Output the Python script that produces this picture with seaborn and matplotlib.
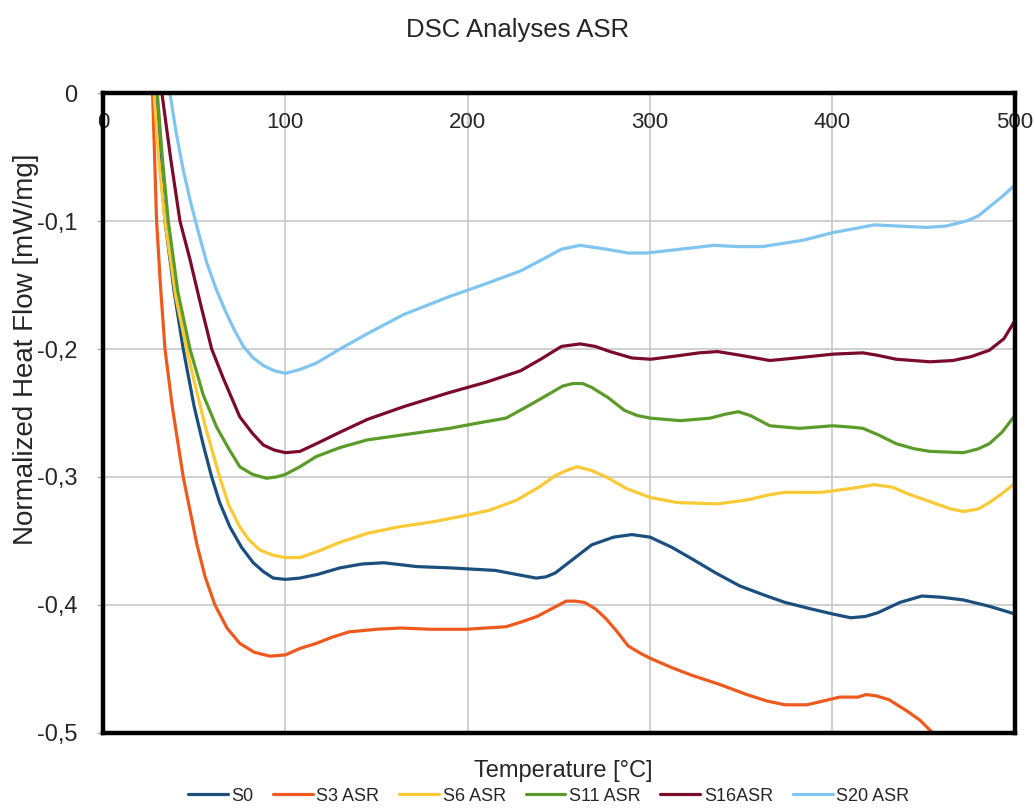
import pandas as pd
import matplotlib
matplotlib.use('Agg')
import matplotlib.pyplot as plt
import seaborn as sns
from matplotlib.ticker import FuncFormatter

# Values (temperature in °C, heat flow in mW/mg)
s0_x = [28.5, 31, 34, 39, 44, 50, 55, 59.6, 64, 69.6, 76, 82.4, 88, 93.4, 100, 108, 118, 130, 142, 154,
        172, 190, 215, 230, 237.6, 243, 248, 258, 268, 280, 290, 300, 312, 323, 336, 349, 362, 374,
        388, 400, 410, 418, 425, 437, 449, 460, 471.5, 486, 500]
s0_y = [0, -0.05, -0.1, -0.155, -0.2, -0.245, -0.275, -0.300, -0.32, -0.339, -0.355, -0.367, -0.374,
        -0.379, -0.380, -0.379, -0.376, -0.371, -0.368, -0.367, -0.370, -0.371, -0.373, -0.377, -0.379,
        -0.378, -0.375, -0.364, -0.353, -0.347, -0.345, -0.347, -0.355, -0.364, -0.375, -0.385, -0.392,
        -0.398, -0.403, -0.407, -0.410, -0.409, -0.406, -0.398, -0.393, -0.394, -0.396, -0.401, -0.407]

s3_x = [27.2, 28.3, 29.4, 31.5, 34, 38, 44, 51.4, 56, 61.4, 68, 75, 83, 91.6, 100, 108, 117, 126, 135,
        150, 163, 180, 199, 221, 230, 238, 246, 254, 259, 264, 270, 276, 282, 288, 295, 300.6, 312, 323,
        338, 353, 364, 374, 386, 395, 404, 414, 418.5, 424, 431, 441, 448, 455, 460]
s3_y = [0, -0.05, -0.1, -0.15, -0.2, -0.245, -0.300, -0.352, -0.378, -0.4, -0.418, -0.430, -0.437,
        -0.440, -0.439, -0.434, -0.430, -0.425, -0.421, -0.419, -0.418, -0.419, -0.419, -0.417, -0.413,
        -0.409, -0.403, -0.397, -0.397, -0.398, -0.403, -0.411, -0.421, -0.432, -0.438, -0.442, -0.449,
        -0.455, -0.462, -0.470, -0.475, -0.478, -0.478, -0.475, -0.472, -0.472, -0.470, -0.471, -0.474,
        -0.483, -0.49, -0.500, -0.508]

s6_x = [28, 30.5, 34, 40, 45.9, 50, 56, 64, 69, 75, 80, 86, 93, 100, 108, 118, 130, 145, 162, 181, 199,
        212, 227, 239, 248, 254, 260, 268, 276, 287, 300, 315, 337, 353, 365, 374, 394, 410, 423, 433,
        441, 455, 465, 472, 480, 486, 493, 500]
s6_y = [0, -0.05, -0.1, -0.16, -0.2, -0.225, -0.26, -0.300, -0.322, -0.339, -0.349, -0.357, -0.361,
        -0.363, -0.363, -0.358, -0.351, -0.344, -0.339, -0.335, -0.330, -0.326, -0.318, -0.308, -0.299,
        -0.295, -0.292, -0.295, -0.300, -0.309, -0.316, -0.320, -0.321, -0.318, -0.314, -0.312, -0.312,
        -0.309, -0.306, -0.308, -0.313, -0.320, -0.325, -0.327, -0.325, -0.320, -0.313, -0.305]

s11_x = [29.8, 32.5, 35.8, 41, 47.7, 55, 62.3, 69, 75, 82, 89.7, 95, 100, 108, 117, 130, 145, 165, 190,
         205, 221, 235, 246, 252, 257.6, 263, 268, 277, 286, 293, 300, 316.7, 333, 341, 348.4, 355,
         365.7, 382, 400, 410, 416.7, 425, 435, 445, 453.5, 471.8, 480, 486, 493, 500]
s11_y = [0, -0.05, -0.1, -0.155, -0.2, -0.236, -0.261, -0.278, -0.292, -0.298, -0.301, -0.300, -0.298,
         -0.292, -0.284, -0.277, -0.271, -0.267, -0.262, -0.258, -0.254, -0.243, -0.234, -0.229, -0.227,
         -0.227, -0.230, -0.238, -0.248, -0.252, -0.254, -0.256, -0.254, -0.251, -0.249, -0.252, -0.260,
         -0.262, -0.260, -0.261, -0.262, -0.267, -0.274, -0.278, -0.280, -0.281, -0.278, -0.274, -0.265,
         -0.252]

s16_x = [32.3, 37, 42.2, 47.7, 53, 59.6, 66, 75, 82, 87.9, 94, 100, 108, 117, 130, 145, 165, 190, 210,
         229, 240, 251.4, 261.6, 270, 278, 290, 300.4, 316.7, 327, 337, 350, 365.7, 380, 400.4, 416.7,
         425, 435, 453.5, 466, 476, 486, 494, 500]
s16_y = [0, -0.05, -0.1, -0.13, -0.162, -0.2, -0.223, -0.253, -0.266, -0.275, -0.279, -0.281, -0.280,
         -0.274, -0.265, -0.255, -0.245, -0.234, -0.226, -0.217, -0.208, -0.198, -0.196, -0.198, -0.202,
         -0.207, -0.208, -0.205, -0.203, -0.202, -0.205, -0.209, -0.207, -0.204, -0.203, -0.205, -0.208,
         -0.210, -0.209, -0.206, -0.201, -0.192, -0.178]

s20_x = [36.7, 40, 44, 48, 52, 57, 62, 67, 72, 77, 82.4, 88, 94, 100, 108, 117, 130, 145, 165, 190, 210,
         229, 241, 251.4, 261.6, 276, 288, 298, 316.7, 335, 348, 361.6, 384, 400.4, 412, 422.9, 437,
         451.4, 462, 473.5, 480, 486, 493, 500]
s20_y = [0, -0.03, -0.06, -0.085, -0.107, -0.133, -0.153, -0.17, -0.185, -0.198, -0.207, -0.213,
         -0.217, -0.219, -0.216, -0.211, -0.200, -0.188, -0.173, -0.159, -0.149, -0.139, -0.130, -0.122,
         -0.119, -0.122, -0.125, -0.125, -0.122, -0.119, -0.120, -0.120, -0.115, -0.109, -0.106, -0.103,
         -0.104, -0.105, -0.104, -0.100, -0.096, -0.089, -0.081, -0.072]

samples = ['S0', 'S3 ASR', 'S6 ASR', 'S11 ASR', 'S16ASR', 'S20 ASR']
colors = ['#1B4F7E', '#EE5A1E', '#FAC936', '#5A9B29', '#7A0B2B', '#80C4F0']
x_ticks = [0, 100, 200, 300, 400, 500]
y_ticks = [0, -0.1, -0.2, -0.3, -0.4, -0.5]

series = [(s0_x, s0_y), (s3_x, s3_y), (s6_x, s6_y), (s11_x, s11_y), (s16_x, s16_y), (s20_x, s20_y)]
frames = []
for name, (xs, ys) in zip(samples, series):
    frames.append(pd.DataFrame({'Temperature': xs, 'Heat Flow': ys, 'Sample': name}))
df = pd.concat(frames, ignore_index=True)

sns.set_style('white')
plt.rcParams['font.family'] = ['Liberation Sans', 'DejaVu Sans']

fig = plt.figure(figsize=(10.35, 8.09), dpi=100)
ax = fig.add_axes([0.0995, 0.094, 0.881, 0.791])

sns.lineplot(data=df, x='Temperature', y='Heat Flow', hue='Sample', hue_order=samples,
             palette=dict(zip(samples, colors)), estimator=None, sort=False,
             linewidth=2.3, ax=ax)

ax.set_xlim(0, 500)
ax.set_ylim(-0.5, 0)
ax.set_xticks(x_ticks)
ax.set_yticks(y_ticks)
ax.yaxis.set_major_formatter(FuncFormatter(lambda v, p: f'{v:g}'.replace('.', ',')))
ax.grid(True, color='#c4c4c4', linewidth=1.1)
ax.set_axisbelow(True)

# x labels sit just under the zero line, inside the plot
ax.tick_params(axis='x', top=True, bottom=False, labeltop=True, labelbottom=False,
               length=0, pad=-29, labelsize=16)
ax.tick_params(axis='y', left=True, length=4, color='#b0b0b0', width=1, pad=14.5, labelsize=17)
for side in ax.spines.values():
    side.set_color('black')
    side.set_linewidth(3.2)

ax.set_xlabel('Temperature [°C]', fontsize=17)
ax.xaxis.set_label_position('bottom')
ax.xaxis.set_label_coords(0.505, -0.043)
ax.set_ylabel('Normalized Heat Flow [mW/mg]', fontsize=20)
ax.yaxis.set_label_coords(-0.07, 0.6)

fig.suptitle('DSC Analyses ASR', fontsize=18.5, y=0.978)

handles, labels = ax.get_legend_handles_labels()
ax.legend(handles, labels, loc='center', bbox_to_anchor=(0.53, 0.016),
          bbox_transform=fig.transFigure, ncol=6, frameon=False, fontsize=13,
          handlelength=2.2, handletextpad=0.2, columnspacing=1.1, borderpad=0.1)

plt.savefig('out.png', dpi=100)
